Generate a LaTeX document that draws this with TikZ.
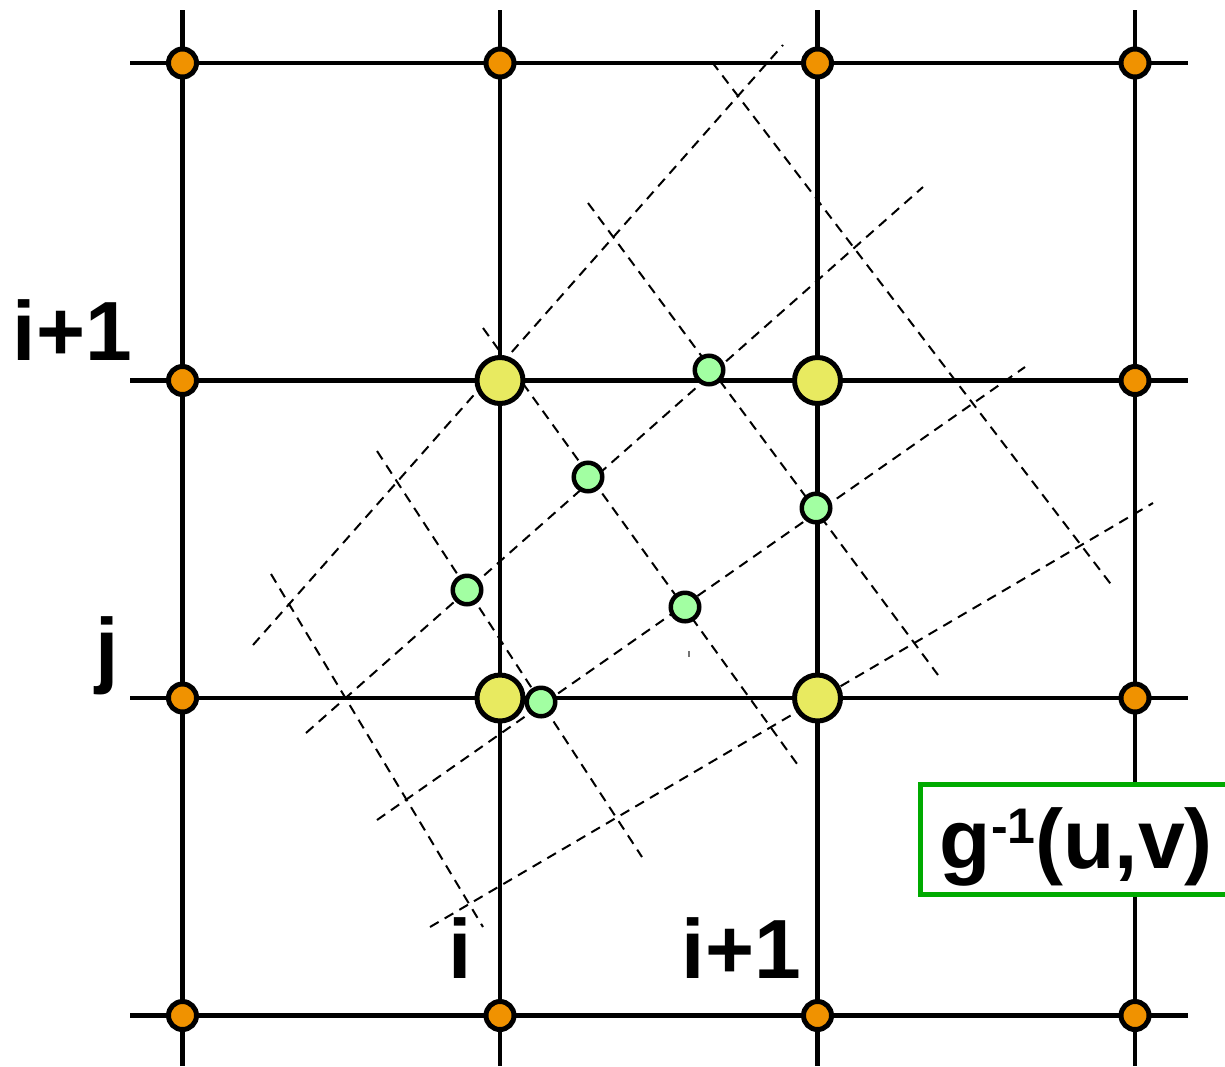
\documentclass[tikz,border=0pt]{standalone}
\usepackage{fontspec}
\setmainfont{Liberation Sans}
\definecolor{dotorange}{RGB}{240,146,0}
\definecolor{dotyellow}{RGB}{232,234,96}
\definecolor{dotgreen}{RGB}{162,255,162}
\definecolor{boxgreen}{RGB}{0,170,0}
\tikzset{
  gridline/.style={line width=4.5pt, black},
  warpline/.style={line width=2pt, black, dash pattern=on 10pt off 7pt},
  orangedot/.style={circle, draw=black, line width=5pt, fill=dotorange, minimum size=28pt, inner sep=0pt},
  yellowdot/.style={circle, draw=black, line width=5pt, fill=dotyellow, minimum size=46pt, inner sep=0pt},
  greendot/.style={circle, draw=black, line width=4.5pt, fill=dotgreen, minimum size=28.5pt, inner sep=0pt},
  biglabel/.style={inner sep=0pt, anchor=base west, font=\fontsize{84}{84}\selectfont\bfseries},
  framebox/.style={draw=boxgreen, line width=5pt, fill=white}
}
\begin{document}
\begin{tikzpicture}[x=1pt,y=-1pt]
\useasboundingbox (0,0) rectangle (1225,1066);
\clip (0,0) rectangle (1225,1066);
% grid line ends
\foreach \n/\x in {1/182.5,2/500,3/817.5,4/1135}{
  \coordinate (vt\n) at (\x,10);
  \coordinate (vb\n) at (\x,1066);
}
\foreach \n/\y in {1/63,2/380.5,3/698,4/1015.5}{
  \coordinate (hl\n) at (130,\y);
  \coordinate (hr\n) at (1188,\y);
}
\foreach \n in {1,2,3,4}{
  \draw[gridline] (vt\n) -- (vb\n);
  \draw[gridline] (hl\n) -- (hr\n);
}
% warped grid end points
\coordinate (L1a) at (253,645);  \coordinate (L1b) at (783,45);
\coordinate (L2a) at (306,733);  \coordinate (L2b) at (923,187);
\coordinate (L3a) at (377,820);  \coordinate (L3b) at (1025,367);
\coordinate (L4a) at (430,927);  \coordinate (L4b) at (1153,503);
\coordinate (M1a) at (271,574);  \coordinate (M1b) at (483,927);
\coordinate (M2a) at (377,451);  \coordinate (M2b) at (642,857);
\coordinate (M3a) at (483,328);  \coordinate (M3b) at (800,768);
\coordinate (M4a) at (588,203);  \coordinate (M4b) at (938,675);
\coordinate (M5a) at (712,62);   \coordinate (M5b) at (1113,587);
\foreach \l in {L1,L2,L3,L4,M1,M2,M3,M4,M5}{
  \draw[warpline] (\l a) -- (\l b);
}
% stray tick
\coordinate (tka) at (689,651); \coordinate (tkb) at (689,657);
\draw[line width=1.5pt, black!55] (tka) -- (tkb);
% frame with label
\coordinate (bxa) at (920,784); \coordinate (bxb) at (1260,894);
\draw[framebox] (bxa) rectangle (bxb);
\node[biglabel] (glab) at (939.5,868) {g\raisebox{25pt}{\fontsize{50}{50}\selectfont -1}(u,v)};
% labels
\node[biglabel] (lip1) at (12.5,360) {i+1};
\node[biglabel] (lj) at (95,677) {j};
\node[biglabel] (li) at (448.4,978) {i};
\node[biglabel] (lip1b) at (681.5,978) {i+1};
% orange dots
\node[orangedot] (o11) at (182.5,63) {};
\node[orangedot] (o21) at (500,63) {};
\node[orangedot] (o31) at (817.5,63) {};
\node[orangedot] (o41) at (1135,63) {};
\node[orangedot] (o12) at (182.5,380.5) {};
\node[orangedot] (o42) at (1135,380.5) {};
\node[orangedot] (o13) at (182.5,698) {};
\node[orangedot] (o43) at (1135,698) {};
\node[orangedot] (o14) at (182.5,1015.5) {};
\node[orangedot] (o24) at (500,1015.5) {};
\node[orangedot] (o34) at (817.5,1015.5) {};
\node[orangedot] (o44) at (1135,1015.5) {};
% yellow dots
\node[yellowdot] (y22) at (500,380.5) {};
\node[yellowdot] (y32) at (817.5,380.5) {};
\node[yellowdot] (y23) at (500,698) {};
\node[yellowdot] (y33) at (817.5,698) {};
% green dots
\node[greendot] (g1) at (467,590) {};
\node[greendot] (g2) at (588,477) {};
\node[greendot] (g3) at (709,370) {};
\node[greendot] (g4) at (541,702) {};
\node[greendot] (g5) at (685,607) {};
\node[greendot] (g6) at (816,508) {};
\end{tikzpicture}
\end{document}
